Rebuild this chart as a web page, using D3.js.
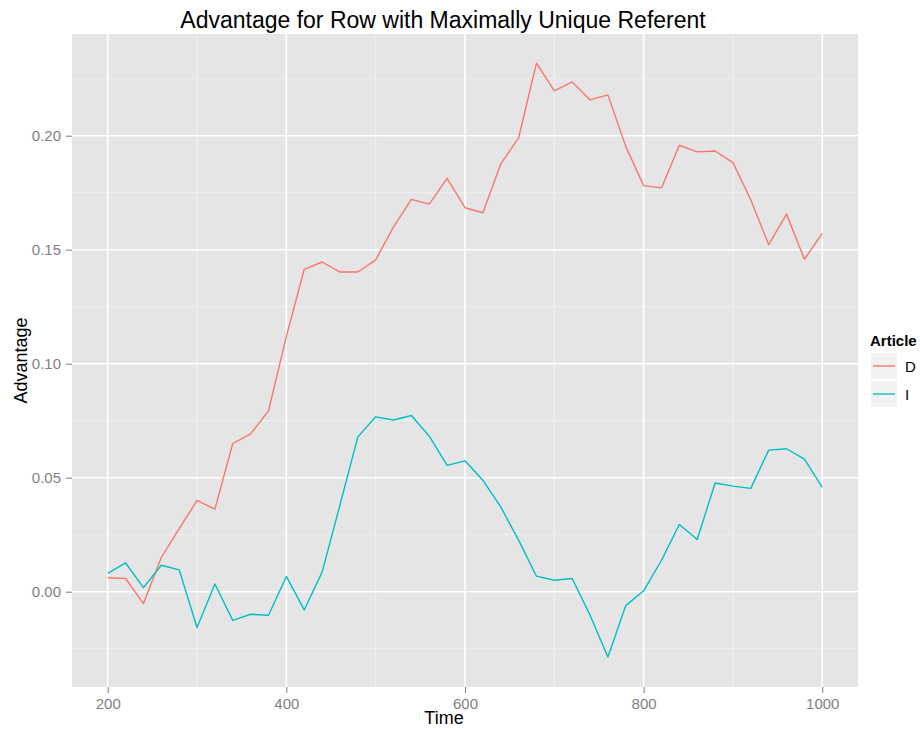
<!DOCTYPE html>
<html><head><meta charset="utf-8">
<script src="https://cdn.jsdelivr.net/npm/d3@7"></script>
<style>body{margin:0;background:#fff;} text{font-family:"Liberation Sans",Arial,sans-serif;}</style>
</head><body>
<svg id="c" width="920" height="729"></svg>
<script>
const times = [200,220,240,260,280,300,320,340,360,380,400,420,440,460,480,500,520,540,560,580,600,620,640,660,680,700,720,740,760,780,800,820,840,860,880,900,920,940,960,980,1000];
const seriesD = [0.0061,0.0058,-0.0052,0.015,0.0277,0.040,0.0362,0.065,0.0692,0.0793,0.112,0.1414,0.1446,0.1402,0.1402,0.1455,0.160,0.1721,0.170,0.1813,0.1684,0.1662,0.1876,0.199,0.2318,0.2197,0.2236,0.2157,0.2179,0.1952,0.1781,0.1771,0.1958,0.1929,0.1933,0.1882,0.1718,0.1522,0.1656,0.1458,0.1572];
const seriesI = [0.0080,0.0126,0.0018,0.0116,0.0096,-0.0157,0.0034,-0.0126,-0.0099,-0.0103,0.0067,-0.0080,0.0086,0.038,0.0679,0.0767,0.0753,0.0773,0.0682,0.0554,0.0574,0.0489,0.0372,0.0226,0.0068,0.0050,0.0058,-0.0103,-0.0286,-0.0061,0.0004,0.0138,0.0295,0.0229,0.0477,0.0463,0.0453,0.0621,0.0627,0.0581,0.0457];
const categories = ["D","I"];
const colors = ["#F8766D","#00BFC4"];
const xTicks = [200,400,600,800,1000];
const xMinor = [300,500,700,900];
const yTicks = [0.00,0.05,0.10,0.15,0.20];
const yMinor = [-0.025,0.025,0.075,0.125,0.175,0.225];

const svg = d3.select("#c");
const L=72, R=858, T=34, B=687;
const x = d3.scaleLinear().domain([160,1040]).range([L,R]);
const y = d3.scaleLinear().domain([-0.0418,0.2446]).range([B,T]);

svg.append("rect").attr("x",L).attr("y",T).attr("width",R-L).attr("height",B-T).attr("fill","#e5e5e5");
const g = svg.append("g");
g.selectAll(".mx").data(xMinor).join("line").attr("x1",d=>x(d)).attr("x2",d=>x(d)).attr("y1",T).attr("y2",B).attr("stroke","#f2f2f2").attr("stroke-width",0.9);
g.selectAll(".my").data(yMinor).join("line").attr("y1",d=>y(d)).attr("y2",d=>y(d)).attr("x1",L).attr("x2",R).attr("stroke","#f2f2f2").attr("stroke-width",0.9);
g.selectAll(".Mx").data(xTicks).join("line").attr("x1",d=>x(d)).attr("x2",d=>x(d)).attr("y1",T).attr("y2",B).attr("stroke","#fff").attr("stroke-width",1.6);
g.selectAll(".My").data(yTicks).join("line").attr("y1",d=>y(d)).attr("y2",d=>y(d)).attr("x1",L).attr("x2",R).attr("stroke","#fff").attr("stroke-width",1.6);

const xAxis = d3.axisBottom(x).tickValues(xTicks).tickFormat(d3.format("d")).tickSize(6).tickPadding(5);
const ax = svg.append("g").attr("transform",`translate(0,${B})`).call(xAxis);
ax.select(".domain").remove();
ax.selectAll("line").attr("stroke","#7f7f7f").attr("stroke-width",1);
ax.selectAll("text").attr("fill","#7f7f7f").attr("font-size",15).attr("font-family","Liberation Sans, Arial, sans-serif");

const yAxis = d3.axisLeft(y).tickValues(yTicks).tickFormat(d3.format(".2f")).tickSize(6).tickPadding(5);
const ay = svg.append("g").attr("transform",`translate(${L},0)`).call(yAxis);
ay.select(".domain").remove();
ay.selectAll("line").attr("stroke","#7f7f7f").attr("stroke-width",1);
ay.selectAll("text").attr("fill","#7f7f7f").attr("font-size",15).attr("font-family","Liberation Sans, Arial, sans-serif");

const line = d3.line().x((d,i)=>x(times[i])).y(d=>y(d));
[seriesD,seriesI].forEach((s,k)=>{
  svg.append("path").datum(s).attr("d",line).attr("fill","none").attr("stroke",colors[k]).attr("stroke-width",1.4).attr("stroke-linejoin","round");
});

svg.append("text").attr("x",443).attr("y",28).attr("text-anchor","middle").attr("font-size",23).attr("fill","#000").text("Advantage for Row with Maximally Unique Referent");
svg.append("text").attr("x",444).attr("y",724).attr("text-anchor","middle").attr("font-size",18).attr("fill","#000").text("Time");
svg.append("text").attr("transform",`translate(27,${(T+B)/2}) rotate(-90)`).attr("text-anchor","middle").attr("font-size",18).attr("fill","#000").text("Advantage");

const lg = svg.append("g");
lg.append("text").attr("x",870).attr("y",346).attr("font-size",15).attr("font-weight","bold").attr("fill","#000").text("Article");
categories.forEach((c,i)=>{
  const yy = 353 + i*28;
  lg.append("rect").attr("x",871).attr("y",yy).attr("width",26).attr("height",26).attr("fill","#f2f2f2");
  lg.append("line").attr("x1",873).attr("x2",895).attr("y1",yy+13).attr("y2",yy+13).attr("stroke",colors[i]).attr("stroke-width",1.4);
  lg.append("text").attr("x",905).attr("y",yy+19).attr("font-size",15).attr("fill","#000").text(c);
});
</script>
</body></html>
